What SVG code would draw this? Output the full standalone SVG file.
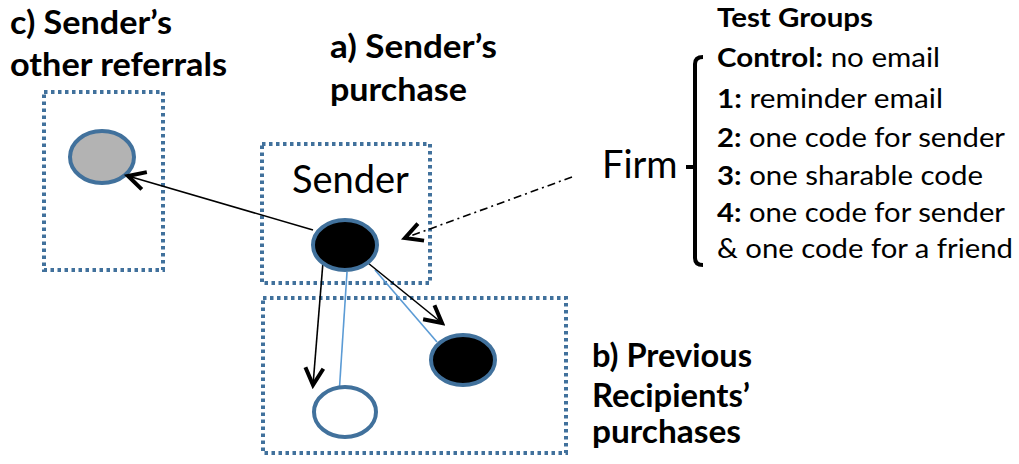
<svg xmlns="http://www.w3.org/2000/svg" width="1019" height="464" viewBox="0 0 1019 464">
  <style>
    .box { fill: none; stroke: #41719c; stroke-width: 4; stroke-dasharray: 3.5 3.5; }
    .node { stroke: #41719c; stroke-width: 4; }
    .head { font-family: Lato, "Open Sans", sans-serif; font-weight: bold; font-size: 32px; fill: #000; }
    .big { font-family: Lato, "Open Sans", sans-serif; font-size: 38px; fill: #000; }
    .item { font-family: Lato, "Open Sans", sans-serif; font-size: 26px; fill: #000; }
    .k { font-weight: bold; }
    .edge { stroke: #000; stroke-width: 1.6; fill: none; }
    .link { stroke: #5b9bd5; stroke-width: 1.6; fill: none; }
  </style>
  <defs>
    <marker id="vee" markerUnits="userSpaceOnUse" viewBox="-20 -12 24 24" markerWidth="24" markerHeight="24" refX="0" refY="0" orient="auto">
      <path d="M -17 -9 L 0 0 L -17 9" fill="none" stroke="#000" stroke-width="4" stroke-linejoin="miter"/>
    </marker>
  </defs>
  <rect width="1019" height="464" fill="#fff"/>

  <!-- region boxes with their captions -->
  <g id="other-referrals">
    <rect class="box" x="44" y="92" width="119" height="178"/>
    <ellipse class="node" cx="102" cy="157" rx="32" ry="26" fill="#b3b3b3"/>
    <text class="head" x="10" y="34" textLength="162" lengthAdjust="spacingAndGlyphs">c) Sender’s</text>
    <text class="head" x="10" y="76" textLength="217" lengthAdjust="spacingAndGlyphs">other referrals</text>
  </g>

  <g id="sender">
    <rect class="box" x="262" y="144" width="168" height="139"/>
    <text class="big" x="292" y="193">Sender</text>
    <text class="head" x="330" y="58" textLength="167" lengthAdjust="spacingAndGlyphs">a) Sender’s</text>
    <text class="head" x="330" y="101" textLength="137" lengthAdjust="spacingAndGlyphs">purchase</text>
  </g>

  <g id="recipients">
    <rect class="box" x="263" y="298" width="303" height="155"/>
    <text class="head" x="592" y="367" textLength="160" lengthAdjust="spacingAndGlyphs">b) Previous</text>
    <text class="head" x="592" y="407" textLength="158" lengthAdjust="spacingAndGlyphs">Recipients’</text>
    <text class="head" x="592" y="443" textLength="149" lengthAdjust="spacingAndGlyphs">purchases</text>
  </g>

  <!-- connectors -->
  <g id="connectors">
    <line class="link" x1="347" y1="272" x2="339" y2="395"/>
    <line class="link" x1="375" y1="270" x2="437" y2="342"/>
    <line class="edge" x1="313" y1="230" x2="128" y2="176" marker-end="url(#vee)"/>
    <line class="edge" x1="323" y1="262" x2="313" y2="385" marker-end="url(#vee)"/>
    <line class="edge" x1="368" y1="263" x2="442" y2="323" marker-end="url(#vee)"/>
    <line class="edge" x1="572" y1="177" x2="405" y2="238" stroke-dasharray="8 4 2 4" marker-end="url(#vee)"/>
  </g>

  <!-- people -->
  <g id="sender-node">
    <ellipse class="node" cx="345" cy="245" rx="32" ry="25" fill="#000"/>
  </g>
  <g id="recipient-buyer">
    <ellipse class="node" cx="463" cy="360" rx="32" ry="25" fill="#000"/>
  </g>
  <g id="recipient-nonbuyer">
    <ellipse class="node" cx="345" cy="412" rx="31" ry="25" fill="#fff"/>
  </g>

  <!-- firm and its test groups -->
  <g id="firm">
    <text class="big" x="602" y="178" font-size="37">Firm</text>
    <path d="M 703 57 Q 695 57 695 64 L 695 258 Q 695 265 703 265 M 695 167 L 686 167" fill="none" stroke="#000" stroke-width="4"/>
    <text class="item k" x="717" y="27" textLength="156" lengthAdjust="spacingAndGlyphs">Test Groups</text>
    <text class="item" x="717" y="67" textLength="223" lengthAdjust="spacingAndGlyphs"><tspan class="k">Control:</tspan> no email</text>
    <text class="item" x="717" y="108" textLength="226" lengthAdjust="spacingAndGlyphs"><tspan class="k">1:</tspan> reminder email</text>
    <text class="item" x="717" y="147" textLength="288" lengthAdjust="spacingAndGlyphs"><tspan class="k">2:</tspan> one code for sender</text>
    <text class="item" x="717" y="185" textLength="266" lengthAdjust="spacingAndGlyphs"><tspan class="k">3:</tspan> one sharable code</text>
    <text class="item" x="717" y="222" textLength="288" lengthAdjust="spacingAndGlyphs"><tspan class="k">4:</tspan> one code for sender</text>
    <text class="item" x="717" y="258" textLength="296" lengthAdjust="spacingAndGlyphs">&amp; one code for a friend</text>
  </g>
</svg>
